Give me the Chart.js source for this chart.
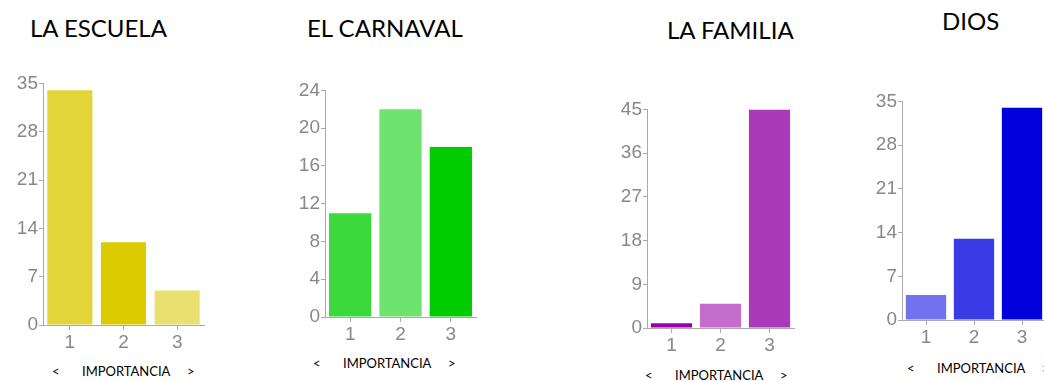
<!DOCTYPE html>
<html>
<head>
<meta charset="utf-8">
<script src="https://cdn.jsdelivr.net/npm/chart.js@4.4.0/dist/chart.umd.min.js"></script>
<style>
  body { margin: 0; width: 1044px; height: 381px; overflow: hidden; background: #fff; position: relative; }
  canvas { position: absolute; }
  .title { position: absolute; font-family: Lato, sans-serif; font-size: 24px; line-height: 24px; color: #000; white-space: nowrap; }
  .cap { position: absolute; font-family: Lato, sans-serif; font-size: 13px; line-height: 13px; color: #000; white-space: nowrap; }
</style>
</head>
<body>
<canvas id="c1"></canvas>
<canvas id="c2"></canvas>
<canvas id="c3"></canvas>
<canvas id="c4"></canvas>
<script>
// datos
var importancia = ['1', '2', '3'];
var titulos = ['LA ESCUELA', 'EL CARNAVAL', 'LA FAMILIA', 'DIOS'];
var ejeX = 'IMPORTANCIA';

var escuela = [34, 12, 5];
var carnaval = [11, 22, 18];
var familia = [1, 5, 45];
var dios = [4, 13, 34];

var escuelaTicks = [0, 7, 14, 21, 28, 35];
var carnavalTicks = [0, 4, 8, 12, 16, 20, 24];
var familiaTicks = [0, 9, 18, 27, 36, 45];
var diosTicks = [0, 7, 14, 21, 28, 35];

var escuelaColores = ['#e3d43a', '#dccb00', '#e9e070'];
var carnavalColores = ['#3bd93b', '#6fe36f', '#00cc00'];
var familiaColores = ['#9900aa', '#c46dcc', '#aa3ab8'];
var diosColores = ['#7272ee', '#3b3be5', '#0000dd'];

// posiciones de cada grafico
var graficos = [
    { id: 'c1', data: escuela, ticks: escuelaTicks, colors: escuelaColores, left: 0, top: 71, w: 210, h: 284,
      title: [30, 16], cap: [52, 365] },
    { id: 'c2', data: carnaval, ticks: carnavalTicks, colors: carnavalColores, left: 282, top: 78, w: 200, h: 269,
      title: [307, 16], cap: [313, 357] },
    { id: 'c3', data: familia, ticks: familiaTicks, colors: familiaColores, left: 604, top: 97, w: 196, h: 261,
      title: [667, 18], cap: [645, 369] },
    { id: 'c4', data: dios, ticks: diosTicks, colors: diosColores, left: 859, top: 89, w: 193, h: 261,
      title: [942, 9], cap: [907, 362] }
];

function addText(cls, text, x, y) {
    var d = document.createElement('div');
    d.className = cls;
    d.textContent = text;
    d.style.left = x + 'px';
    d.style.top = y + 'px';
    document.body.appendChild(d);
}

function makeChart(g, i) {
    var cv = document.getElementById(g.id);
    cv.width = g.w;
    cv.height = g.h;
    cv.style.left = g.left + 'px';
    cv.style.top = g.top + 'px';

    var tickFont = { family: "'Liberation Sans', Arial, sans-serif", size: 19 };
    var step = g.ticks[1] - g.ticks[0];

    new Chart(cv.getContext('2d'), {
        type: 'bar',
        data: {
            labels: importancia,
            datasets: [{
                data: g.data,
                backgroundColor: g.colors,
                borderWidth: 0,
                barPercentage: 0.84,
                categoryPercentage: 1
            }]
        },
        options: {
            responsive: false,
            animation: false,
            devicePixelRatio: 1,
            layout: { padding: { top: 12, right: 6, left: 0, bottom: 0 } },
            plugins: { legend: { display: false }, tooltip: { enabled: false } },
            scales: {
                x: {
                    grid: { offset: false, drawOnChartArea: false, drawTicks: true, tickLength: 5, color: '#aaa' },
                    border: { color: '#aaa', width: 1 },
                    ticks: { color: '#888', font: tickFont, padding: 1, maxRotation: 0 },
                    afterFit: function (s) { s.height = 30; }
                },
                y: {
                    min: 0,
                    max: g.ticks[g.ticks.length - 1],
                    grid: { drawOnChartArea: false, drawTicks: true, tickLength: 4, color: '#aaa' },
                    border: { color: '#aaa', width: 1 },
                    ticks: { color: '#888', font: tickFont, padding: 1, stepSize: step },
                    afterBuildTicks: function (s) { s.ticks = g.ticks.map(function (v) { return { value: v }; }); },
                    afterFit: function (s) { s.width = 43; }
                }
            }
        }
    });

    addText('title', titulos[i], g.title[0], g.title[1]);
    var cx = g.cap[0], cy = g.cap[1];
    addText('cap', '<', cx, cy);
    addText('cap', ejeX, cx + 30, cy);
    addText('cap', '>', cx + 135, cy);
}

window.onload = function () {
    graficos.forEach(makeChart);
};
</script>
</body>
</html>
